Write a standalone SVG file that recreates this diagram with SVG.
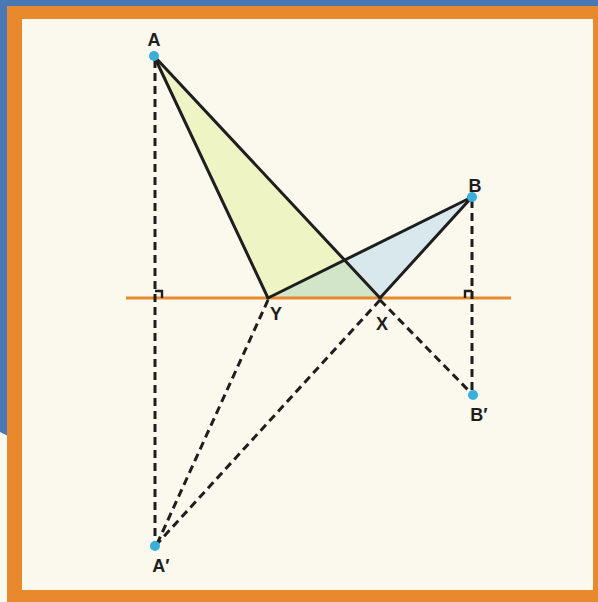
<svg xmlns="http://www.w3.org/2000/svg" width="598" height="602" viewBox="0 0 598 602">
<style>
.edge{stroke:#1e1e1e;stroke-width:3;fill:none;stroke-linecap:round}
.dash{stroke:#1e1e1e;stroke-width:3;fill:none;stroke-dasharray:8 5}
.pt{fill:#3aafd9}
.lbl{font-family:"Liberation Sans",Arial,sans-serif;font-weight:bold;font-size:18px;fill:#1e1e1e;text-anchor:middle}
.mark{stroke:#1e1e1e;stroke-width:2.4;fill:none}
</style>
<rect x="0" y="0" width="598" height="602" fill="#fbf8ee"/>
<polygon points="0,0 598,0 598,8 0,8" fill="#4a78b4"/>
<polygon points="0,0 8,0 8,436 0,432" fill="#4a78b4"/>
<rect x="7" y="6" width="591" height="596" fill="#e8892e"/>
<rect x="22" y="19" width="571" height="571" fill="#fbf8ee"/>
<g id="shading">
<polygon points="154,56 268,298 380,298" fill="#eef4c4"/>
<polygon points="268,298 472,197 380,298" fill="#d8e8ec"/>
<polygon points="268,298 344.6,260.1 380,298" fill="#d3e5c9"/>
</g>
<line id="mirror" x1="126" y1="298" x2="511" y2="298" stroke="#e8892e" stroke-width="3"/>
<g id="connectors">
<line class="dash" x1="155" y1="60" x2="155" y2="544"/>
<line class="dash" x1="472" y1="200" x2="472" y2="392"/>
<line class="dash" x1="268" y1="300" x2="157" y2="544"/>
<line class="dash" x1="380" y1="300" x2="157" y2="544"/>
<line class="dash" x1="380" y1="300" x2="471" y2="393"/>
<line class="edge" x1="154" y1="56" x2="268" y2="298"/>
<line class="edge" x1="154" y1="56" x2="380" y2="298"/>
<line class="edge" x1="268" y1="298" x2="472" y2="197"/>
<line class="edge" x1="472" y1="197" x2="380" y2="298"/>
<polyline class="mark" points="155,291 162,291 162,298"/>
<polyline class="mark" points="472,291 465,291 465,298"/>
</g>
<g id="A"><circle class="pt" cx="154" cy="56" r="5"/><text class="lbl" x="154" y="46">A</text></g>
<g id="B"><circle class="pt" cx="472" cy="197" r="5"/><text class="lbl" x="475" y="192">B</text></g>
<g id="Y"><text class="lbl" x="276" y="320">Y</text></g>
<g id="X"><text class="lbl" x="382" y="330">X</text></g>
<g id="Bp"><circle class="pt" cx="473" cy="395" r="5"/><text class="lbl" x="479" y="421">B′</text></g>
<g id="Ap"><circle class="pt" cx="155" cy="546" r="5"/><text class="lbl" x="161" y="572">A′</text></g>
</svg>
